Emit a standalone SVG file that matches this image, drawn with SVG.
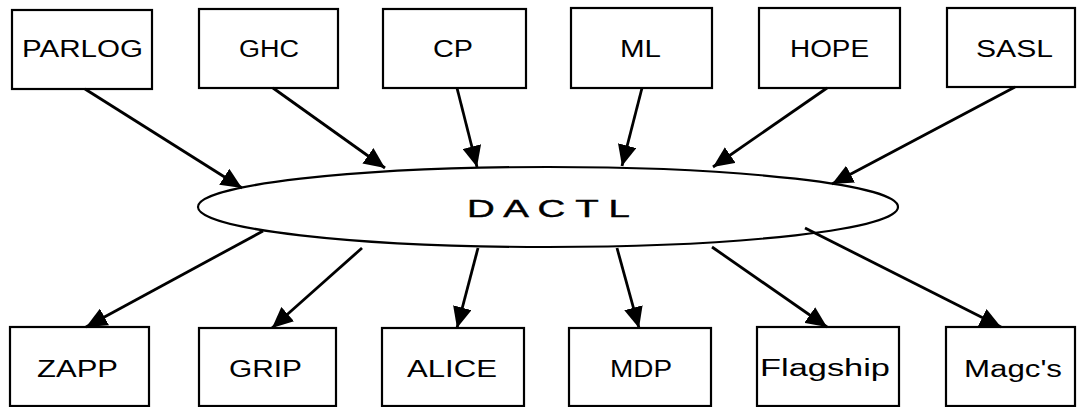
<svg xmlns="http://www.w3.org/2000/svg" width="1077" height="407" viewBox="0 0 1077 407">
<style>
.box{fill:#fff;stroke:#000;stroke-width:2.2}
.lbl{font-family:"Liberation Sans",Arial,sans-serif;font-size:23px;fill:#000}
.edge{stroke:#000;stroke-width:2.8;fill:none;marker-end:url(#ah)}
.ell{fill:#fff;stroke:#000;stroke-width:2.2}
</style>
<defs>
<marker id="ah" viewBox="0 0 21 19" refX="21" refY="9.5" markerWidth="21" markerHeight="19" markerUnits="userSpaceOnUse" orient="auto">
<path d="M0,0 L21,9.5 L0,19 z" fill="#000"/>
</marker>
</defs>
<rect width="1077" height="407" fill="#fff"/>
<g id="n-PARLOG"><rect class="box" x="12" y="10" width="140" height="79"/><text class="lbl" x="22" y="57" textLength="121" lengthAdjust="spacingAndGlyphs">PARLOG</text></g>
<g id="n-GHC"><rect class="box" x="199" y="9" width="139" height="79"/><text class="lbl" x="239" y="57" textLength="60" lengthAdjust="spacingAndGlyphs">GHC</text></g>
<g id="n-CP"><rect class="box" x="383" y="9" width="143" height="79"/><text class="lbl" x="433" y="57" textLength="40" lengthAdjust="spacingAndGlyphs">CP</text></g>
<g id="n-ML"><rect class="box" x="571" y="8" width="141" height="80"/><text class="lbl" x="620" y="57" textLength="41" lengthAdjust="spacingAndGlyphs">ML</text></g>
<g id="n-HOPE"><rect class="box" x="759" y="8" width="141" height="80"/><text class="lbl" x="790" y="57" textLength="79" lengthAdjust="spacingAndGlyphs">HOPE</text></g>
<g id="n-SASL"><rect class="box" x="947" y="8" width="128" height="79"/><text class="lbl" x="976" y="57" textLength="77" lengthAdjust="spacingAndGlyphs">SASL</text></g>
<g id="n-DACTL"><ellipse class="ell" cx="548" cy="207" rx="350" ry="40"/><text class="lbl" x="467" y="217" textLength="163" lengthAdjust="spacingAndGlyphs" style="font-size:24px;stroke:#000;stroke-width:0.4">D A C T L</text></g>
<g id="n-ZAPP"><rect class="box" x="10" y="327" width="139" height="79"/><text class="lbl" x="37" y="377" textLength="81" lengthAdjust="spacingAndGlyphs">ZAPP</text></g>
<g id="n-GRIP"><rect class="box" x="199" y="328" width="137" height="78"/><text class="lbl" x="229" y="377" textLength="73" lengthAdjust="spacingAndGlyphs">GRIP</text></g>
<g id="n-ALICE"><rect class="box" x="382" y="328" width="142" height="78"/><text class="lbl" x="407" y="377" textLength="90" lengthAdjust="spacingAndGlyphs">ALICE</text></g>
<g id="n-MDP"><rect class="box" x="569" y="328" width="142" height="78"/><text class="lbl" x="610" y="377" textLength="62" lengthAdjust="spacingAndGlyphs">MDP</text></g>
<g id="n-Flagship"><rect class="box" x="757" y="327" width="142" height="79"/><text class="lbl" x="760" y="376" textLength="130" lengthAdjust="spacingAndGlyphs">Flagship</text></g>
<g id="n-Magcs"><rect class="box" x="946" y="327" width="129" height="79"/><text class="lbl" x="964" y="377" textLength="98" lengthAdjust="spacingAndGlyphs">Magc's</text></g>
<g id="connectors">
<line class="edge" x1="85" y1="89" x2="242" y2="188"/>
<line class="edge" x1="273" y1="88" x2="385" y2="168"/>
<line class="edge" x1="457" y1="88" x2="477" y2="167"/>
<line class="edge" x1="642" y1="88" x2="622" y2="166"/>
<line class="edge" x1="827" y1="88" x2="713" y2="167"/>
<line class="edge" x1="1015" y1="87" x2="832" y2="184"/>
<line class="edge" x1="263" y1="231" x2="86" y2="327"/>
<line class="edge" x1="362" y1="248" x2="272" y2="328"/>
<line class="edge" x1="478" y1="248" x2="457" y2="328"/>
<line class="edge" x1="617" y1="248" x2="639" y2="328"/>
<line class="edge" x1="712" y1="247" x2="827" y2="327"/>
<line class="edge" x1="805" y1="228" x2="1001" y2="327"/>
</g>
</svg>
